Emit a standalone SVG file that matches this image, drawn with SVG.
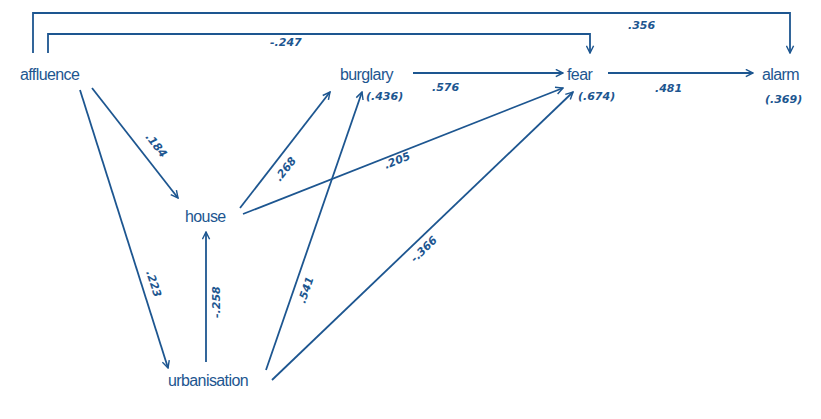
<svg xmlns="http://www.w3.org/2000/svg" width="821" height="419" viewBox="0 0 821 419">
<defs>
<marker id="ah" viewBox="0 0 10 10" refX="9" refY="5" markerWidth="9" markerHeight="9" orient="auto" markerUnits="userSpaceOnUse">
<path d="M1,1 L9,5 L1,9" fill="none" stroke="#1d5690" stroke-width="1.6"/>
</marker>
<style>
.n{font-family:"Liberation Sans",Arial,sans-serif;font-size:16px;fill:#1d5690;letter-spacing:-0.6px}
.h{font-family:"DejaVu Sans",sans-serif;font-size:11px;font-weight:bold;font-style:italic;fill:#1d5690}
.c{fill:none;stroke:#1d5690;stroke-width:1.8;marker-end:url(#ah)}
</style>
</defs>
<rect width="821" height="419" fill="#ffffff"/>
<g id="connectors">
<path class="c" d="M33,53 V13 H790 V53"/>
<path class="c" d="M48,53 V34 H590 V53"/>
<path class="c" d="M413,73 H563"/>
<path class="c" d="M608,73 H753"/>
<path class="c" d="M92,88 L178,198"/>
<path class="c" d="M80,90 L168,368"/>
<path class="c" d="M206,362 V232"/>
<path class="c" d="M240,208 L330,92"/>
<path class="c" d="M243,214 L563,88"/>
<path class="c" d="M266,370 L362,92"/>
<path class="c" d="M272,380 L573,92"/>
<text class="h" x="628" y="29">.356</text>
<text class="h" x="270" y="46">-.247</text>
<text class="h" x="432" y="91">.576</text>
<text class="h" x="655" y="92">.481</text>
<text class="h" transform="translate(145,137) rotate(52)">.184</text>
<text class="h" transform="translate(146,272) rotate(72)">.223</text>
<text class="h" transform="translate(220,318) rotate(-90)">-.258</text>
<text class="h" transform="translate(280,182) rotate(-52)">.268</text>
<text class="h" transform="translate(386,169) rotate(-22)">.205</text>
<text class="h" transform="translate(305,304) rotate(-71)">.541</text>
<text class="h" transform="translate(415,263) rotate(-44)">-.366</text>
</g>
<g id="affluence"><text class="n" x="20" y="80">affluence</text></g>
<g id="burglary"><text class="n" x="340" y="80">burglary</text><text class="h" x="366" y="100">(.436)</text></g>
<g id="fear"><text class="n" x="567" y="80">fear</text><text class="h" x="578" y="100">(.674)</text></g>
<g id="alarm"><text class="n" x="762" y="80">alarm</text><text class="h" x="765" y="103">(.369)</text></g>
<g id="house"><text class="n" x="185" y="222">house</text></g>
<g id="urbanisation"><text class="n" x="168" y="386">urbanisation</text></g>
</svg>
